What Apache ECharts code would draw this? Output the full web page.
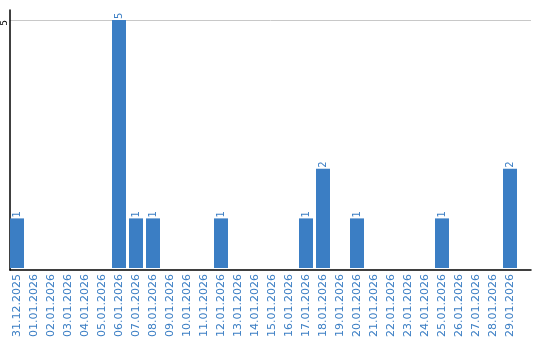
<!DOCTYPE html>
<html><head><meta charset="utf-8">
<script src="https://cdn.jsdelivr.net/npm/echarts@6/dist/echarts.min.js"></script>
<style>html,body{margin:0;padding:0;background:#fff}#c{width:540px;height:340px}</style>
</head><body><div id="c"></div>
<script>
var categories = ['31.12.2025','01.01.2026','02.01.2026','03.01.2026','04.01.2026','05.01.2026','06.01.2026','07.01.2026','08.01.2026','09.01.2026','10.01.2026','11.01.2026','12.01.2026','13.01.2026','14.01.2026','15.01.2026','16.01.2026','17.01.2026','18.01.2026','19.01.2026','20.01.2026','21.01.2026','22.01.2026','23.01.2026','24.01.2026','25.01.2026','26.01.2026','27.01.2026','28.01.2026','29.01.2026'];
var values = [1,0,0,0,0,0,5,1,1,0,0,0,1,0,0,0,0,1,2,0,1,0,0,0,0,1,0,0,0,2];
var yTicks = [5];

var blue = '#3b7ec4';
var font = 'DejaVu Sans';
var chart = echarts.init(document.getElementById('c'));
chart.setOption({
  animation: false,
  grid: [
    {left: 10, right: 9, top: 10, bottom: 70},
    {left: 8.5, width: 510, top: 10, bottom: 70}
  ],
  xAxis: [
    {gridIndex: 0, type: 'value', min: 0, max: 1, axisLabel: {show: false}, axisTick: {show: false}, splitLine: {show: false},
     axisLine: {show: true, onZero: false, lineStyle: {color: '#000', width: 1.5}}},
    {gridIndex: 1, type: 'category', data: categories, axisLine: {show: false}, axisTick: {show: false},
     axisLabel: {interval: 0, rotate: 90, color: blue, fontFamily: font, fontSize: 11, margin: 6}}
  ],
  yAxis: [
    {gridIndex: 0, type: 'value', min: 0, max: 5.2, interval: 5,
     axisLine: {show: true, lineStyle: {color: '#000', width: 1.5}}, axisTick: {show: false},
     splitLine: {show: true, showMinLine: false, showMaxLine: false, lineStyle: {color: '#c8c8c8', width: 1}},
     axisLabel: {rotate: 90, align: 'right', verticalAlign: 'middle', color: '#000', fontFamily: font, fontSize: 9, margin: 5,
       showMaxLabel: false,
       formatter: function(v){ return yTicks.indexOf(v) >= 0 ? String(v) : ''; }}},
    {gridIndex: 1, type: 'value', min: 0, max: 5.2, show: false, splitLine: {show: false}}
  ],
  series: [{
    type: 'bar', xAxisIndex: 1, yAxisIndex: 1, data: values, barWidth: 14,
    itemStyle: {color: blue},
    label: {show: true, position: 'top', rotate: 90, align: 'left', verticalAlign: 'middle', distance: 1,
      color: blue, fontFamily: font, fontSize: 10,
      formatter: function(p){ return p.value ? String(p.value) : ''; }}
  }]
});
</script></body></html>
